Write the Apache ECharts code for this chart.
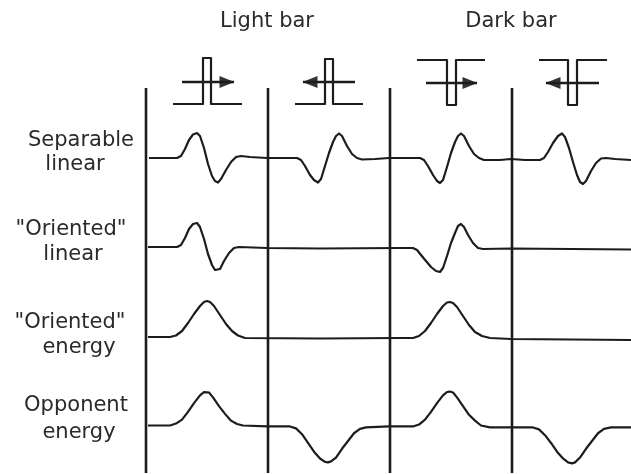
<!DOCTYPE html>
<html>
<head>
<meta charset="utf-8">
<style>
html, body { margin: 0; padding: 0; background: #fff; }
#main { width: 631px; height: 474px; }
</style>
<script src="https://cdn.jsdelivr.net/npm/echarts@6/dist/echarts.min.js"></script>
</head>
<body>
<div id="main"></div>
<script>
// column and row names
var columnNames = ['Light bar', 'Dark bar'];
var rowNames = [['Separable', 'linear'], ['"Oriented"', 'linear'], ['"Oriented"', 'energy'], ['Opponent', 'energy']];

// responses: [position along the row, response]
var separableLinear = [[149,-1],[165,-1],[177,-1],[181,1],[185,8],[189,17],[193,22.5],[197,24],[200,21],[204,9],[208,-7],[212,-19],[215,-24],[218,-25.5],[221,-22],[226,-13],[231,-5],[236,0],[241,1],[250,0],[267,-1],
    [280,-1],[297,-1],[301,-3],[305,-9],[310,-18],[314,-23],[318,-25.5],[321,-22],[325,-9],[329,4],[333,15],[336,21],[339,23.5],[342,21],[347,11],[352,3],[357,-1],[362,-2.5],[375,-2],[389,-1],
    [405,-1],[420,-1],[424,-3],[428,-9],[433,-18],[437,-24],[440,-26],[443,-23],[447,-10],[451,4],[455,15],[458,21],[461,23.5],[464,21],[469,11],[474,3],[479,-1],[484,-3],[500,-3],[511,-2],
    [525,-3],[540,-3],[544,-1],[548,5],[553,14],[558,21],[562,23.5],[565,20],[569,9],[573,-5],[577,-18],[580,-25],[583,-27],[586,-24],[591,-14],[596,-6],[601,-1.5],[606,-1],[615,-2],[631,-3]];
var orientedLinear = [[148,0],[165,0],[177,0],[181,2],[185,9],[189,18],[193,23],[197,24],[200,20],[204,8],[208,-7],[212,-18],[215,-23],[217,-25],[220,-22],[224,-14],[229,-6],[234,-1],[239,0],[267,-1],[320,-1.5],
    [400,-1],[413,-1],[417,-3],[421,-8],[426,-14],[431,-20],[436,-24],[440,-25],[443,-21],[447,-9],[451,4],[455,14],[458,21],[461,23],[464,20],[468,12],[473,4],[478,-1],[483,-2],[511,-1.5],[631,-2.5]];
var orientedEnergy = [[148,1],[170,1],[176,2.5],[182,7],[188,15],[194,24],[200,32],[204,36],[207,37],[210,36],[214,32],[220,23],[226,14],[232,7],[238,2.5],[245,0],[320,-0.5],
    [400,0],[413,0],[419,2],[425,7],[431,15],[437,24],[443,32],[447,35.5],[450,36],[453,35],[457,31],[463,22],[469,13],[475,6],[482,2],[490,0],[511,-1],[631,-2]];
var opponentEnergy = [[148,0],[170,0],[176,2],[182,6],[188,14],[194,23],[200,31],[204,34.5],[206,35],[209,34],[213,29],[219,20],[225,12],[231,5],[237,1.5],[243,0],[267,-1],
    [290,-1],[296,-3],[302,-9],[308,-18],[314,-27],[320,-34],[325,-37.5],[328,-38],[331,-37],[336,-33],[342,-24],[348,-16],[354,-8],[360,-3.5],[366,-2],[389,-1],
    [413,-1],[419,1],[425,6],[431,14],[437,23],[443,31],[447,34.5],[450,35],[453,34],[457,29],[463,20],[469,11],[475,5],[481,0],[490,-2],[511,-2],
    [533,-2],[539,-4],[545,-10],[551,-18],[557,-27],[563,-34],[568,-38],[572,-39],[575,-38],[580,-33],[586,-24],[592,-16],[598,-8],[604,-3.5],[611,-2],[631,-2]];
var responses = [separableLinear, orientedLinear, orientedEnergy, opponentEnergy];

// stimulus bar profiles
var lightBarRight = [[173,10],[203,10],[203,56],[211,56],[211,10],[242,10]];
var lightBarLeft = [[295,10],[325,10],[325,55],[333,55],[333,10],[363,10]];
var darkBarRight = [[417,54],[447,54],[447,9],[456,9],[456,54],[485,54]];
var darkBarLeft = [[539,54],[568,54],[568,9],[577,9],[577,54],[607,54]];
var bars = [lightBarRight, lightBarLeft, darkBarRight, darkBarLeft];

// motion direction arrows: [tail, tip]
var arrowRight1 = [[182,32],[234,32]];
var arrowLeft1 = [[355,32],[303,32]];
var arrowRight2 = [[426,31],[477,31]];
var arrowLeft2 = [[599,31],[546,31]];
var arrows = [arrowRight1, arrowLeft1, arrowRight2, arrowLeft2];

// panel dividers
var dividers = [146, 268, 390, 512];

var INK = '#1c1c1c';
var baselines = [157, 247, 338, 427];
var rowLabelLayout = [[[81, 141], [75, 165]], [[71, 230], [73, 255]], [[70, 323], [79, 348]], [[76, 406], [79, 433]]];
var columnLabelLayout = [[267, 22], [511, 22]];

var grids = [], xAxes = [], yAxes = [], series = [], labels = [];

function addGrid(top, height, min, max) {
    grids.push({ left: 0, width: 631, top: top, height: height });
    xAxes.push({ type: 'value', min: 0, max: 631, show: false, gridIndex: grids.length - 1 });
    yAxes.push({ type: 'value', min: min, max: max, show: false, gridIndex: grids.length - 1 });
    return grids.length - 1;
}

function addLine(index, data, width) {
    series.push({
        type: 'line',
        xAxisIndex: index,
        yAxisIndex: index,
        data: data,
        symbol: 'none',
        lineStyle: { color: INK, width: width, join: 'round' },
        silent: true,
        animation: false
    });
}

// dividers
var dividerGrid = addGrid(88, 385, 0, 1);
dividers.forEach(function (x) {
    addLine(dividerGrid, [[x, 0], [x, 1]], 2.6);
});

// response rows
responses.forEach(function (data, i) {
    addLine(addGrid(baselines[i] - 50, 100, -50, 50), data, 2.2);
});

// stimuli
var stimulusGrid = addGrid(50, 64, 0, 64);
bars.forEach(function (data) {
    addLine(stimulusGrid, data, 2.2);
});
arrows.forEach(function (data) {
    addLine(stimulusGrid, data, 2.4);
    var toRight = data[1][0] > data[0][0];
    series.push({
        type: 'scatter',
        xAxisIndex: stimulusGrid,
        yAxisIndex: stimulusGrid,
        data: [[data[1][0] + (toRight ? -7 : 7), data[1][1]]],
        symbol: 'triangle',
        symbolSize: [12, 15],
        symbolRotate: toRight ? -90 : 90,
        itemStyle: { color: '#000' },
        silent: true,
        animation: false
    });
});

function addLabel(text, pos) {
    labels.push({
        type: 'text',
        x: pos[0],
        y: pos[1],
        silent: true,
        style: {
            text: text,
            align: 'center',
            verticalAlign: 'middle',
            font: '21px "DejaVu Sans"',
            fill: '#2a2a2a'
        }
    });
}
columnNames.forEach(function (name, i) {
    addLabel(name, columnLabelLayout[i]);
});
rowNames.forEach(function (lines, i) {
    lines.forEach(function (line, j) {
        addLabel(line, rowLabelLayout[i][j]);
    });
});

var chart = echarts.init(document.getElementById('main'));
chart.setOption({
    backgroundColor: '#fff',
    animation: false,
    grid: grids,
    xAxis: xAxes,
    yAxis: yAxes,
    series: series,
    graphic: labels
});
</script>
</body>
</html>
